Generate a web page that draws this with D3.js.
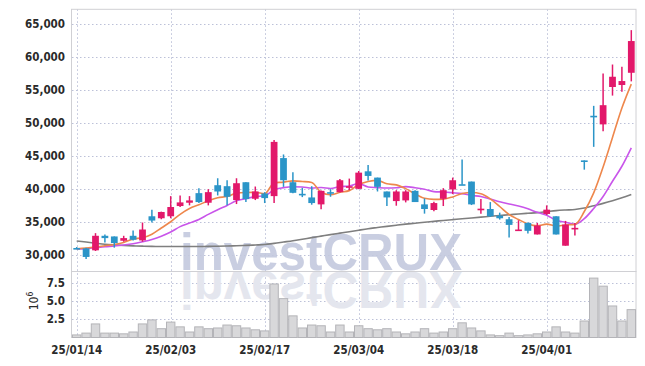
<!DOCTYPE html>
<html><head><meta charset="utf-8">
<script src="https://cdn.jsdelivr.net/npm/d3@7"></script>
<style>body{margin:0;background:#fff}svg{display:block}</style>
</head><body><svg id="c" width="645" height="366"></svg>
<script>
const dates = ["25/01/14","25/01/15","25/01/16","25/01/17","25/01/20","25/01/21","25/01/22","25/01/23","25/01/24","25/01/31",
"25/02/03","25/02/04","25/02/05","25/02/06","25/02/07","25/02/10","25/02/11","25/02/12","25/02/13","25/02/14",
"25/02/17","25/02/18","25/02/19","25/02/20","25/02/21","25/02/24","25/02/25","25/02/26","25/02/27","25/02/28",
"25/03/04","25/03/05","25/03/06","25/03/07","25/03/10","25/03/11","25/03/12","25/03/13","25/03/14","25/03/17",
"25/03/18","25/03/19","25/03/20","25/03/21","25/03/24","25/03/25","25/03/26","25/03/27","25/03/28","25/03/31",
"25/04/01","25/04/02","25/04/03","25/04/04","25/04/07","25/04/08","25/04/09","25/04/10","25/04/11","25/04/14"];
const open  = [31050,31000,30700,32900,32800,32150,32900,32200,35850,35550,35850,37400,37900,39350,37900,40550,40400,38300,41000,38500,39300,38900,44650,41000,39250,38700,37650,39500,39500,40150,40000,42650,41700,39600,38150,38250,39700,37650,36800,38500,39900,40700,41100,36900,36950,35950,35400,33800,34850,33100,36200,35850,31400,34050,44300,51050,49750,55400,55700,57550];
const high  = [31200,31100,33300,33100,32800,32900,33700,34900,36850,36550,38900,39000,38900,40100,39950,41600,41300,41600,41000,40350,39500,47400,45200,42500,40150,40400,39750,39950,41500,41550,42700,43600,41700,39600,39800,39800,39800,38550,38050,40100,41700,44450,41100,38450,38000,36400,35750,35250,34900,34850,37500,35850,35150,34850,44300,52550,57450,58800,58450,64000];
const low   = [30900,29400,30600,31900,31100,32000,32200,32000,34900,35400,35550,37250,37500,37850,37500,39000,37500,37700,38000,38300,37850,37850,40300,39350,38750,37600,36900,38800,39450,39800,39950,41250,39600,37400,37450,37950,38000,36250,36600,37400,39200,40600,37550,36250,35750,35350,32650,33700,33250,33100,36050,33100,31400,32950,42900,46350,48700,54100,54700,56250];
const close = [31000,29700,32900,32550,31800,32550,32300,33850,35200,36500,37250,37950,38250,38000,39500,39600,38800,40850,38450,39600,38600,47100,41300,39400,39150,37850,39700,39400,41300,40400,42450,41950,40300,38700,39600,39600,38000,36950,37850,39800,41300,40600,37650,37000,35850,35550,34550,33850,33650,34450,36850,33100,34600,34100,44250,50950,52650,56950,56300,62350];
const ma5   = [30950,31050,31200,31400,31590,31900,32420,32610,33140,34080,35020,36150,37030,37590,38190,38660,38830,39350,39440,39460,39260,40920,41010,41200,41110,40960,39480,39100,39480,39730,40650,41100,41280,40760,40600,40030,39240,38570,38400,38440,38780,39300,39440,39270,38480,37330,36120,35360,34690,34410,34670,34380,34530,34620,36570,39390,43300,47770,52210,55840];
const ma10  = [30900,30950,31100,31250,31350,31500,31700,32000,32350,32835,33460,34285,34820,35365,36135,36840,37490,38190,38515,38825,38960,39875,40180,40320,40285,40110,40200,40055,40340,40420,40805,40290,40190,40120,40165,40340,40170,39925,39580,39520,39405,39270,39005,38835,38460,38055,37710,37400,36980,36445,36000,35250,34945,34655,35490,37030,38840,41150,43415,46205];
const maLong= [32120,31950,31780,31620,31520,31440,31380,31330,31300,31280,31270,31270,31270,31280,31300,31320,31350,31400,31450,31510,31580,31750,31950,32150,32380,32620,32850,33080,33300,33520,33750,33970,34150,34330,34500,34660,34800,34950,35080,35220,35350,35480,35600,35720,35850,35970,36080,36200,36300,36400,36550,36700,36800,36880,37100,37450,37800,38200,38650,39150];
const volume= [0.35,0.6,1.85,0.6,0.6,0.5,0.75,1.85,2.4,1.2,2.1,1.45,0.75,1.45,1.2,1.3,1.7,1.6,1.3,1.05,0.9,7.3,5.3,2.95,1.3,1.7,1.6,0.75,1.7,0.75,1.6,1.2,1.05,1.2,0.75,0.5,0.75,1.2,0.6,0.75,1.2,2.0,1.3,0.9,0.35,0.25,0.6,0.25,0.35,0.5,0.75,1.45,0.75,0.6,2.25,8.1,7.0,4.3,2.25,3.8];
const priceTicks = [30000,35000,40000,45000,50000,55000,60000,65000];
const volTicks = [2.5,5.0,7.5];
const dateTicks = ["25/01/14","25/02/03","25/02/17","25/03/04","25/03/18","25/04/01"];

const FONT = "'DejaVu Sans Condensed','Liberation Sans Narrow','DejaVu Sans',sans-serif";
const UP = "#e2186a", DOWN = "#2b95c8";
const L = 72, R = 636, PT = 9.3, PB = 271.5, VB = 337.5;

const svg = d3.select("#c");
const x = d3.scaleBand().domain(dates).range([L, R]);
const cx = d => x(d) + x.bandwidth() / 2;
const yP = d3.scaleLinear().domain([27500, 67150]).range([PB, PT]);
const yV = d3.scaleLinear().domain([0, 9]).range([VB, PB]);

// grid
const grid = svg.append("g").attr("stroke", "#bcc1d8").attr("stroke-width", 1).attr("stroke-dasharray", "1.5,2.5");
grid.selectAll("line.hp").data(priceTicks).join("line")
  .attr("x1", L).attr("x2", R).attr("y1", d => Math.round(yP(d)) + 0.5).attr("y2", d => Math.round(yP(d)) + 0.5);
grid.selectAll("line.hv").data(volTicks).join("line").attr("class","hv")
  .attr("x1", L).attr("x2", R).attr("y1", d => Math.round(yV(d)) + 0.5).attr("y2", d => Math.round(yV(d)) + 0.5);
grid.selectAll("line.vx").data(dateTicks).join("line").attr("class","vx")
  .attr("x1", d => Math.round(cx(d)) + 0.5).attr("x2", d => Math.round(cx(d)) + 0.5).attr("y1", PT).attr("y2", VB);

// watermark
const wm = svg.append("g");
wm.append("text").attr("x", 180).attr("y", 270).attr("textLength", 282).attr("lengthAdjust", "spacingAndGlyphs")
  .attr("font-family", "'Liberation Sans',Arial,sans-serif").attr("font-weight", "bold").attr("font-size", 52)
  .attr("fill", "#c3c9de").attr("fill-opacity", 0.9).text("investCRUX");
wm.append("text").attr("x", 180).attr("y", 270).attr("textLength", 282).attr("lengthAdjust", "spacingAndGlyphs")
  .attr("transform", "translate(0,542) scale(1,-1)")
  .attr("font-family", "'Liberation Sans',Arial,sans-serif").attr("font-weight", "bold").attr("font-size", 52)
  .attr("fill", "#e4e6ee").text("investCRUX");

// frame
svg.append("rect").attr("x", L - 0.5).attr("y", PT).attr("width", R - L + 0.5).attr("height", PB - PT)
  .attr("fill", "none").attr("stroke", "#d0d0d4");
svg.append("rect").attr("x", L - 0.5).attr("y", PB).attr("width", R - L + 0.5).attr("height", VB - PB)
  .attr("fill", "none").attr("stroke", "#d0d0d4");

// volume bars
svg.append("g").selectAll("rect").data(volume).join("rect")
  .attr("x", (v, i) => x(dates[i]) + 0.5).attr("width", x.bandwidth() - 1)
  .attr("y", v => yV(v)).attr("height", v => VB - yV(v))
  .attr("fill", "#d8d8da").attr("stroke", "#b4b4b8").attr("stroke-width", 1);

// MA lines
const mkLine = arr => d3.line().x((v, i) => cx(dates[i])).y(v => yP(v)).curve(d3.curveMonotoneX)(arr);
svg.append("path").attr("d", mkLine(maLong)).attr("fill", "none").attr("stroke", "#7f7f7f").attr("stroke-width", 1.6);
svg.append("path").attr("d", mkLine(ma10)).attr("fill", "none").attr("stroke", "#c955ea").attr("stroke-width", 1.6);
svg.append("path").attr("d", mkLine(ma5)).attr("fill", "none").attr("stroke", "#ee874c").attr("stroke-width", 1.6);

// candles
const bw = x.bandwidth() * 0.72;
const cg = svg.append("g").selectAll("g").data(dates).join("g");
cg.append("line")
  .attr("x1", (d) => cx(d)).attr("x2", (d) => cx(d))
  .attr("y1", (d, i) => yP(high[i])).attr("y2", (d, i) => yP(low[i]))
  .attr("stroke", (d, i) => close[i] >= open[i] ? UP : DOWN).attr("stroke-width", 1.5);
cg.append("rect")
  .attr("x", d => cx(d) - bw / 2).attr("width", bw)
  .attr("y", (d, i) => yP(Math.max(open[i], close[i])))
  .attr("height", (d, i) => Math.max(1.6, Math.abs(yP(open[i]) - yP(close[i]))))
  .attr("fill", (d, i) => close[i] >= open[i] ? UP : DOWN);

// axes
const ya = svg.append("g").attr("transform", `translate(${L},0)`)
  .call(d3.axisLeft(yP).tickValues(priceTicks).tickFormat(d3.format(",")).tickSize(0).tickPadding(7));
const va = svg.append("g").attr("transform", `translate(${L},0)`)
  .call(d3.axisLeft(yV).tickValues(volTicks).tickFormat(d3.format(".1f")).tickSize(0).tickPadding(7));
const xa = svg.append("g").attr("transform", `translate(0,${VB})`)
  .call(d3.axisBottom(x).tickValues(dateTicks).tickSize(0).tickPadding(8));
[ya, va, xa].forEach(g => {
  g.select(".domain").remove();
  g.selectAll("text").attr("font-family", FONT).attr("font-size", 11.5).attr("font-weight", "bold").attr("fill", "#2a2a2a");
});

// 10^6 unit label
const ul = svg.append("text").attr("transform", "translate(38,301) rotate(-90)")
  .attr("text-anchor", "middle").attr("font-family", FONT).attr("font-size", 12).attr("fill", "#2a2a2a");
ul.append("tspan").text("10");
ul.append("tspan").attr("font-size", 8.5).attr("dy", -5).text("6");
</script></body></html>
